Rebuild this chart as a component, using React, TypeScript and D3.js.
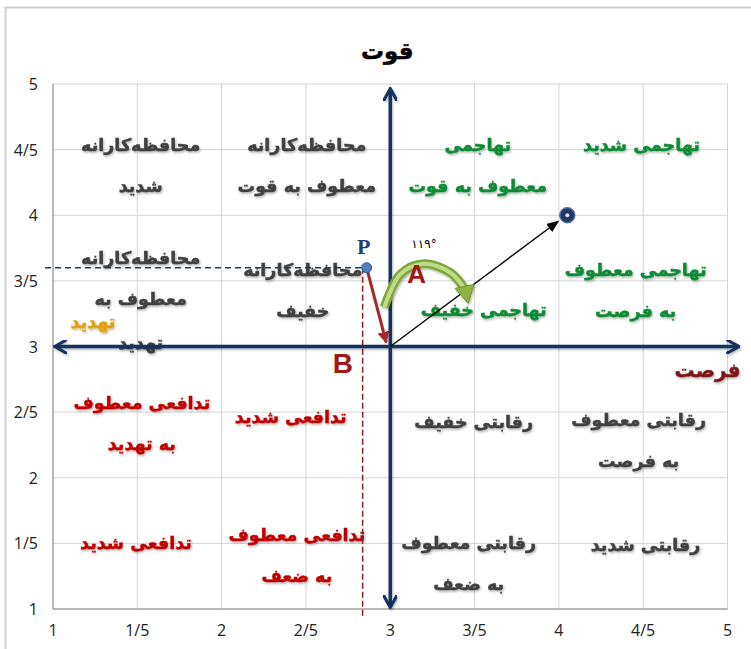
import React from "react";
import * as d3 from "d3";

// axis ticks (values and the Persian-style labels shown in the chart)
const tickValues = [1, 1.5, 2, 2.5, 3, 3.5, 4, 4.5, 5];
const tickLabels = ["1", "1/5", "2", "2/5", "3", "3/5", "4", "4/5", "5"];

const title = "قوت";
const xTitle = "فرصت";

// strategy labels: first-line anchor in data units
interface StrategyLabel {
  lines: string[];
  x: number;
  y: number;
  group: "conservative" | "aggressive" | "defensive" | "competitive" | "threat";
}

const conservativeLabels: StrategyLabel[] = [
  { lines: ["محافظه‌کارانه", "شدید"], x: 1.52, y: 4.535, group: "conservative" },
  { lines: ["محافظه‌کارانه", "معطوف به قوت"], x: 2.505, y: 4.535, group: "conservative" },
  { lines: ["محافظه‌کارانه", "معطوف به"], x: 1.52, y: 3.674, group: "conservative" },
  { lines: ["تهدید"], x: 1.52, y: 3.027, group: "conservative" },
  { lines: ["تهدید"], x: 1.237, y: 3.187, group: "threat" },
  { lines: ["محافظه‌کارانه", "خفیف"], x: 2.481, y: 3.583, group: "conservative" },
];

const aggressiveLabels: StrategyLabel[] = [
  { lines: ["تهاجمی", "معطوف به قوت"], x: 3.519, y: 4.535, group: "aggressive" },
  { lines: ["تهاجمی شدید"], x: 4.49, y: 4.535, group: "aggressive" },
  { lines: ["تهاجمی معطوف", "به فرصت"], x: 4.455, y: 3.583, group: "aggressive" },
  { lines: ["تهاجمی خفیف"], x: 3.554, y: 3.278, group: "aggressive" },
];

const defensiveLabels: StrategyLabel[] = [
  { lines: ["تدافعی معطوف", "به تهدید"], x: 1.527, y: 2.57, group: "defensive" },
  { lines: ["تدافعی شدید"], x: 2.41, y: 2.463, group: "defensive" },
  { lines: ["تدافعی شدید"], x: 1.492, y: 1.503, group: "defensive" },
  { lines: ["تدافعی معطوف", "به ضعف"], x: 2.446, y: 1.564, group: "defensive" },
];

const competitiveLabels: StrategyLabel[] = [
  { lines: ["رقابتی خفیف"], x: 3.495, y: 2.425, group: "competitive" },
  { lines: ["رقابتی معطوف", "به فرصت"], x: 4.473, y: 2.44, group: "competitive" },
  { lines: ["رقابتی معطوف", "به ضعف"], x: 3.465, y: 1.503, group: "competitive" },
  { lines: ["رقابتی شدید"], x: 4.514, y: 1.488, group: "competitive" },
];

// points
const origin = { x: 3, y: 3 };
const pointP = { x: 2.86, y: 3.6 };
const target = { x: 4.05, y: 4.0 };

// green angle arc (start, peak, end)
const arcPoints: [number, number][] = [
  [2.965, 3.3],
  [3.06, 3.55],
  [3.2, 3.63],
  [3.36, 3.56],
  [3.45, 3.42],
];

const angleText = "۱۱۹°";
const angleAnchor = { x: 3.2, y: 3.79 };
const labelA = { x: 3.157, y: 3.56 };
const labelB = { x: 2.719, y: 2.882 };

const colors: Record<string, string> = {
  conservative: "#404040",
  aggressive: "#0f8a35",
  defensive: "#c00000",
  competitive: "#404040",
  threat: "#e3a20a",
};

const W = 751;
const H = 649;
const margin = { top: 84, right: 23, bottom: 40, left: 53 };

const App: React.FC = () => {
  const x = d3
    .scaleLinear()
    .domain([1, 5])
    .range([margin.left, W - margin.right - 0.5]);
  const y = d3
    .scaleLinear()
    .domain([1, 5])
    .range([H - margin.bottom, margin.top]);

  const navy = "#12305f";
  const font = "'DejaVu Sans', sans-serif";
  const tickFont = "'Open Sans', 'Liberation Sans', sans-serif";

  const allLabels = [
    ...conservativeLabels,
    ...aggressiveLabels,
    ...defensiveLabels,
    ...competitiveLabels,
  ];

  const arcLine = d3
    .line<[number, number]>()
    .x((d) => x(d[0]))
    .y((d) => y(d[1]))
    .curve(d3.curveCatmullRom);

  // arrowhead for the green arc
  const end = arcPoints[arcPoints.length - 1];
  const ex = x(end[0]);
  const ey = y(end[1]);

  return (
    <svg
      width={W}
      height={H}
      style={{ position: "absolute", left: 0, top: 0, background: "#fff" }}
    >
      <defs>
        <filter id="shadow" x="-20%" y="-20%" width="140%" height="140%">
          <feDropShadow dx="1" dy="1.5" stdDeviation="1" floodColor="#000" floodOpacity="0.3" />
        </filter>
        <marker id="navyHead" viewBox="0 0 10 10" refX="8" refY="5" markerWidth="4" markerHeight="4" orient="auto-start-reverse">
          <path d="M0,0 L9,5 L0,10" fill="none" stroke={navy} strokeWidth="2.2" />
        </marker>
        <marker id="blackHead" viewBox="0 0 10 10" refX="9" refY="5" markerWidth="9" markerHeight="9" orient="auto">
          <path d="M0,1 L10,5 L0,9 z" fill="#000" />
        </marker>
        <marker id="redHead" viewBox="0 0 10 10" refX="9" refY="5" markerWidth="4" markerHeight="4" orient="auto">
          <path d="M0,0 L10,5 L0,10 z" fill="#a52a2a" />
        </marker>
      </defs>

      {/* outer frame */}
      <rect x={5.5} y={7.5} width={W + 10} height={H + 10} fill="none" stroke="#d0d0d0" strokeWidth={2} />

      {/* grid */}
      {tickValues.map((t) => (
        <g key={"g" + t}>
          <line x1={x(t)} x2={x(t)} y1={y(1)} y2={y(5)} stroke="#d4d4d4" strokeWidth={1} />
          <line x1={x(1)} x2={x(5)} y1={y(t)} y2={y(t)} stroke="#d4d4d4" strokeWidth={1} />
        </g>
      ))}
      <line x1={x(1)} x2={x(5)} y1={y(1)} y2={y(1)} stroke="#8a8a8a" strokeWidth={1} />
      <line x1={x(1)} x2={x(1)} y1={y(1)} y2={y(5)} stroke="#8a8a8a" strokeWidth={1} />

      {/* tick labels */}
      {tickValues.map((t, i) => (
        <text key={"xt" + t} x={x(t)} y={y(1) + 27} textAnchor="middle" fontFamily={tickFont} fontSize={16} fill="#222">
          {tickLabels[i]}
        </text>
      ))}
      {tickValues.map((t, i) => (
        <text key={"yt" + t} x={x(1) - 15} y={y(t) + 6} textAnchor="end" fontFamily={tickFont} fontSize={16} fill="#222">
          {tickLabels[i]}
        </text>
      ))}

      {/* title */}
      <text x={x(3) - 3} y={59} textAnchor="middle" fontFamily={font} fontWeight="bold" fontSize={23} fill="#000" stroke="#000" strokeWidth={0.5}>
        {title}
      </text>

      {/* strategy labels */}
      {allLabels.map((l, i) => (
        <text
          key={"l" + i}
          textAnchor="middle"
          fontFamily={font}
          fontWeight="bold"
          fontSize={17.5}
          fill={colors[l.group]}
          stroke={colors[l.group]}
          strokeWidth={0.45}
          filter="url(#shadow)"
        >
          {l.lines.map((s, j) => (
            <tspan key={j} x={x(l.x)} y={y(l.y) + 6 + j * 41}>
              {s}
            </tspan>
          ))}
        </text>
      ))}

      {/* dashed projection lines of P */}
      <line x1={45} x2={x(pointP.x)} y1={y(pointP.y)} y2={y(pointP.y)} stroke="#1f3864" strokeWidth={1.3} strokeDasharray="6,4" />
      <line x1={x(pointP.x) - 4} x2={x(pointP.x) - 4} y1={y(pointP.y)} y2={y(1) + 8} stroke="#8b1f1f" strokeWidth={1.5} strokeDasharray="6,3" />

      {/* main axes */}
      <g filter="url(#shadow)">
        <line x1={x(origin.x)} x2={x(origin.x)} y1={y(5) + 6} y2={y(1) - 3} stroke={navy} strokeWidth={3.5} markerStart="url(#navyHead)" markerEnd="url(#navyHead)" />
        <line x1={x(1) + 3} x2={x(5) + 10} y1={y(origin.y)} y2={y(origin.y)} stroke={navy} strokeWidth={3.5} markerStart="url(#navyHead)" markerEnd="url(#navyHead)" />
      </g>

      {/* axis titles */}
      <text x={x(5) + 13} y={y(3) + 30} textAnchor="end" fontFamily={font} fontWeight="bold" fontSize={20} fill="#7b1818" stroke="#7b1818" strokeWidth={0.4} filter="url(#shadow)">
        {xTitle}
      </text>

      {/* black vector to target */}
      <line x1={x(origin.x)} y1={y(origin.y)} x2={x(target.x) - 9} y2={y(target.y) + 6} stroke="#000" strokeWidth={1.4} markerEnd="url(#blackHead)" />

      {/* red vector from P */}
      <line x1={x(pointP.x)} y1={y(pointP.y)} x2={x(origin.x) - 4} y2={y(origin.y) - 4} stroke="#a52a2a" strokeWidth={3} markerEnd="url(#redHead)" />

      {/* green angle arc */}
      <g filter="url(#shadow)">
        <path d={arcLine(arcPoints) ?? ""} fill="none" stroke="#7fa83a" strokeWidth={9} />
        <path d={arcLine(arcPoints) ?? ""} fill="none" stroke="#c3da8c" strokeWidth={4} />
        <path d={`M${ex - 11},${ey - 3} L${ex + 8},${ey - 7} L${ex + 2},${ey + 12} z`} fill="#8db443" stroke="#6f9630" strokeWidth={1} />
      </g>

      {/* points */}
      <circle cx={x(pointP.x)} cy={y(pointP.y)} r={5} fill="#4f81bd" stroke="#2f5597" strokeWidth={1} />
      <circle cx={x(target.x)} cy={y(target.y)} r={7.5} fill="#1f3864" stroke="#4a6fa5" strokeWidth={1.5} />
      <circle cx={x(target.x)} cy={y(target.y)} r={2} fill="#dfe6f0" />

      {/* annotations */}
      <text x={x(pointP.x) - 3} y={y(pointP.y) - 14} textAnchor="middle" fontFamily="'Liberation Serif', serif" fontWeight="bold" fontSize={22} fill="#1f3f78">
        P
      </text>
      <text x={x(labelA.x)} y={y(labelA.y) + 10} textAnchor="middle" fontFamily="'Liberation Sans', sans-serif" fontWeight="bold" fontSize={26} fill="#a01818">
        A
      </text>
      <text x={x(labelB.x)} y={y(labelB.y) + 11} textAnchor="middle" fontFamily="'Liberation Sans', sans-serif" fontWeight="bold" fontSize={28} fill="#a01818">
        B
      </text>
      <text x={x(angleAnchor.x)} y={y(angleAnchor.y) + 5} textAnchor="middle" fontFamily={font} fontSize={12} fill="#000">
        {angleText}
      </text>
    </svg>
  );
};

export default App;
